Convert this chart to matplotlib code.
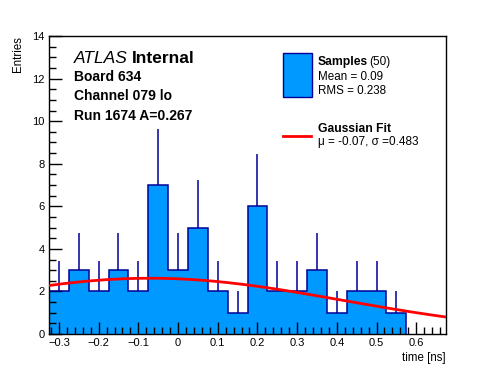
import numpy as np
from matplotlib import pyplot as plt
from matplotlib.ticker import MultipleLocator
from matplotlib.patches import Rectangle
from matplotlib.lines import Line2D

# histogram contents (bin width 0.05 ns)
bin_centers = [-0.30, -0.25, -0.20, -0.15, -0.10, -0.05, 0.00, 0.05, 0.10,
               0.15, 0.20, 0.25, 0.30, 0.35, 0.40, 0.45, 0.50, 0.55]
counts = [2, 3, 2, 3, 2, 7, 3, 5, 2, 1, 6, 2, 2, 3, 1, 2, 2, 1]
bin_width = 0.05

# gaussian fit result
fit_mu = -0.07
fit_sigma = 0.483
fit_amp = 2.62

info_lines = ["Board 634", "Channel 079 lo", "Run 1674 A=0.267"]

plt.rcParams["font.family"] = ["Liberation Sans", "DejaVu Sans"]

W, H = 496, 372
fig = plt.figure(figsize=(W / 100, H / 100), dpi=100)
ax = fig.add_axes([49 / W, 1 - 334 / H, 397 / W, 298 / H])


def px(x, y):
    # pixel position -> figure fraction
    return x / W, 1 - y / H


centers = np.array(bin_centers)
vals = np.array(counts, dtype=float)
edges = np.append(centers - bin_width / 2, centers[-1] + bin_width / 2)

fill_col = "#0099ff"
line_col = "#000099"

ax.stairs(vals, edges, fill=True, color=fill_col, zorder=1)
ax.stairs(vals, edges, baseline=0, color=line_col, lw=1.1, zorder=2)
ax.vlines(centers, vals, vals + np.sqrt(vals), color=line_col, lw=1.1, zorder=2)

xs = np.linspace(-0.325, 0.675, 400)
ax.plot(xs, fit_amp * np.exp(-(xs - fit_mu) ** 2 / (2 * fit_sigma ** 2)),
        color="red", lw=2, zorder=3)

ax.set_xlim(-0.325, 0.675)
ax.set_ylim(0, 14)
ax.xaxis.set_major_locator(MultipleLocator(0.1))
ax.xaxis.set_minor_locator(MultipleLocator(0.02))
ax.yaxis.set_major_locator(MultipleLocator(2))
ax.yaxis.set_minor_locator(MultipleLocator(0.5))
ax.tick_params(which="both", direction="in", top=False, right=False,
               labelsize=8, width=1)
ax.tick_params(which="major", length=9, pad=3)
ax.tick_params(which="minor", length=5)
xt = [t for t in ax.get_xticks() if -0.33 < t < 0.68]
ax.set_xticks(xt)
ax.set_xticklabels([("%g" % t).replace("-", "\u2212") if abs(t) > 1e-9 else "0"
                    for t in xt])
ax.set_xlim(-0.325, 0.675)
for s in ax.spines.values():
    s.set_linewidth(1)

fig.text(*px(446, 361), "time [ns]", ha="right", va="baseline", fontsize=8.3)
fig.text(*px(24, 36), "Entries", rotation=90, ha="right", va="top", fontsize=8.3)

# ATLAS label
fig.text(*px(74, 63), "ATLAS", style="italic", fontsize=12.5, va="baseline")
fig.text(*px(132, 63), "Internal", weight="bold", fontsize=12.5, va="baseline")
for i, line in enumerate(info_lines):
    fig.text(*px(74, 81 + i * 19.3), line, weight="bold", fontsize=10,
             va="baseline")

# legend, drawn by hand to copy the ROOT layout
x0, y0 = px(283, 97)
x1, y1 = px(312, 53)
fig.add_artist(Rectangle((x0, y0), x1 - x0, y1 - y0, transform=fig.transFigure,
                         facecolor=fill_col, edgecolor=line_col, lw=1))
fig.text(*px(318, 65), "Samples", weight="bold", fontsize=8.7, va="baseline")
fig.text(*px(369, 65), "(50)", fontsize=8.5, va="baseline")
fig.text(*px(318, 80), "Mean = 0.09", fontsize=8.4, va="baseline")
fig.text(*px(318, 93.5), "RMS = 0.238", fontsize=8.4, va="baseline")

lx0, ly = px(283, 136)
lx1, _ = px(311, 136)
fig.add_artist(Line2D([lx0, lx1], [ly, ly], transform=fig.transFigure,
                      color="red", lw=2))
fig.text(*px(318, 132.5), "Gaussian Fit", weight="bold", fontsize=8.7,
         va="baseline")
fig.text(*px(318, 144.5), "\u03bc = -0.07, \u03c3 =0.483", fontsize=8.5,
         va="baseline")

fig.savefig("out.png", dpi=100)
